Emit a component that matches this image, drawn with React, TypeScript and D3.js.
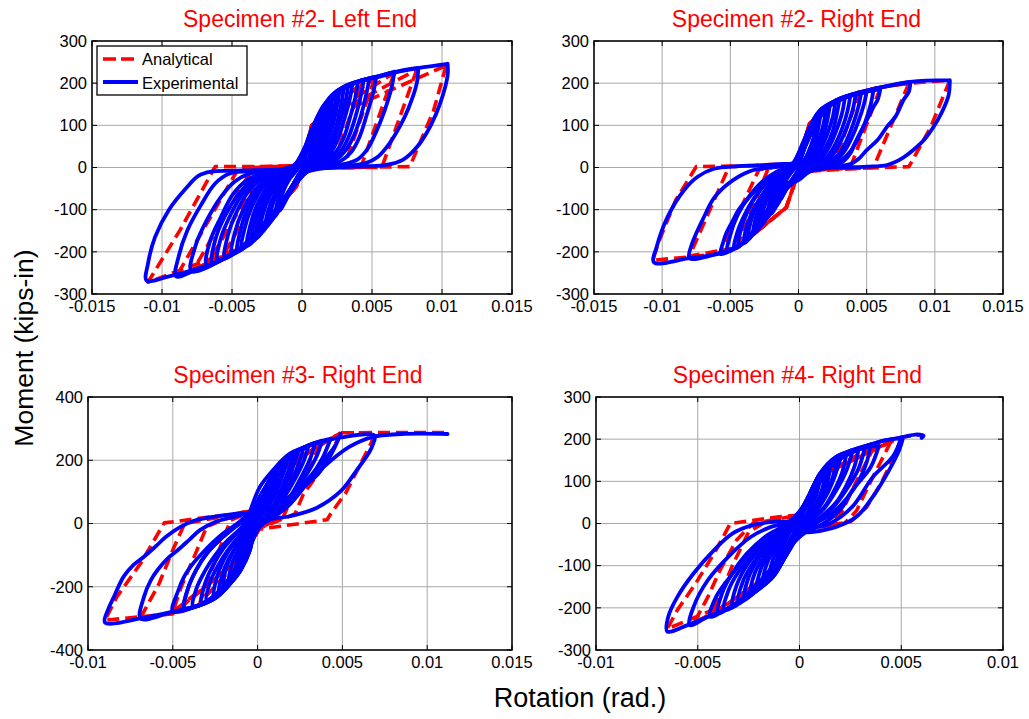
import React from "react";
import * as d3 from "d3";

type Pt = [number, number];

// ---------- tick labels ----------
const xTicksWide = [-0.015, -0.01, -0.005, 0, 0.005, 0.01, 0.015];
const xTicksMid = [-0.01, -0.005, 0, 0.005, 0.01, 0.015];
const xTicksNarrow = [-0.01, -0.005, 0, 0.005, 0.01];
const yTicks300 = [-300, -200, -100, 0, 100, 200, 300];
const yTicks400 = [-400, -200, 0, 200, 400];

const panelTitles = [
  "Specimen #2- Left End",
  "Specimen #2- Right End",
  "Specimen #3- Right End",
  "Specimen #4- Right End",
];
const seriesNames = ["Analytical", "Experimental"];
const xAxisLabel = "Rotation (rad.)";
const yAxisLabel = "Moment (kips-in)";

// ---------- Specimen #2 Left End ----------
const s2LeftExp: Pt[][] = [
  [[0.0104,246],[0.0104,218],[0.0099,155],[0.0092,100],[0.0083,52],[0.0072,18],[0.006,6],[0.0045,3],[0.003,1],[0.0015,-2],[0.0003,-12],
   [-0.0009,-60],[-0.0025,-125],[-0.0044,-190],[-0.006,-222],[-0.0078,-243],[-0.0095,-258],[-0.0111,-268],
   [-0.011,-228],[-0.0105,-165],[-0.0095,-100],[-0.0083,-50],[-0.0074,-20],[-0.0065,-10],[-0.005,-8],[-0.003,-6],[-0.0012,-3],[-0.0002,12],
   [0.0006,75],[0.0015,135],[0.0027,180],[0.004,203],[0.0055,215],[0.007,228],[0.0087,238],[0.0104,246]],
  [[0.0083,236],[0.0082,200],[0.0076,140],[0.007,98],[0.0062,55],[0.0054,25],[0.0046,11],[0.0035,5],[0.002,2],[0.0008,-3],[0,-18],
   [-0.0009,-62],[-0.0025,-128],[-0.0044,-192],[-0.006,-223],[-0.0075,-242],[-0.009,-258],
   [-0.0088,-210],[-0.0082,-150],[-0.0072,-88],[-0.0062,-38],[-0.0052,-15],[-0.004,-9],[-0.0025,-6],[-0.001,-2],[-0.0001,15],
   [0.0006,78],[0.0015,138],[0.0027,184],[0.004,204],[0.0055,217],[0.007,229],[0.0083,236]],
  [[0.0066,227],[0.0064,190],[0.0059,135],[0.0053,85],[0.0047,45],[0.004,20],[0.003,8],[0.0017,3],[0.0005,-5],
   [-0.0005,-40],[-0.0018,-100],[-0.0035,-165],[-0.0055,-215],[-0.0079,-246],
   [-0.0076,-185],[-0.0068,-125],[-0.0058,-70],[-0.0048,-33],[-0.0038,-15],[-0.0022,-8],[-0.0008,-2],[0,15],
   [0.0007,82],[0.0016,142],[0.0028,186],[0.0042,206],[0.0055,217],[0.0066,227]],
  [[0.0053,215],[0.0051,180],[0.0046,122],[0.0041,72],[0.0035,36],[0.0027,14],[0.0016,4],[0.0005,-6],
   [-0.0006,-45],[-0.0018,-102],[-0.0035,-168],[-0.0052,-208],[-0.0068,-231],
   [-0.0066,-178],[-0.0058,-118],[-0.0049,-62],[-0.0038,-27],[-0.0025,-11],[-0.001,-3],[0,18],
   [0.0007,85],[0.0016,145],[0.0028,188],[0.0041,205],[0.0053,215]],
  [[0.0048,210],[0.0046,175],[0.0042,122],[0.0037,75],[0.0031,40],[0.0023,15],[0.0012,3],[0.0001,-10],[-0.001,-60],[-0.0025,-130],
   [-0.0042,-188],[-0.0055,-215],[-0.0064,-226],[-0.0062,-172],[-0.0055,-115],[-0.0045,-62],[-0.0034,-26],[-0.002,-9],[-0.0007,0],
   [0.0002,30],[0.001,110],[0.0022,172],[0.0035,198],[0.0048,210]],
  [[0.0044,206],[0.0042,170],[0.0038,118],[0.0033,70],[0.0027,35],[0.0019,12],[0.0009,2],[0,-12],
   [-0.001,-62],[-0.0025,-135],[-0.0043,-192],[-0.006,-220],
   [-0.0058,-168],[-0.0051,-112],[-0.0042,-60],[-0.0031,-25],[-0.0018,-8],[-0.0006,3],
   [0.0003,50],[0.0012,120],[0.0024,176],[0.0035,198],[0.0044,206]],
  [[0.004,202],[0.0038,165],[0.0034,115],[0.003,72],[0.0024,36],[0.0016,12],[0.0006,-2],[-0.0004,-30],[-0.0016,-90],[-0.003,-150],
   [-0.0044,-192],[-0.0055,-214],[-0.0053,-162],[-0.0047,-108],[-0.0039,-60],[-0.0028,-24],[-0.0015,-6],[-0.0003,10],[0.0006,82],
   [0.0018,152],[0.003,190],[0.004,202]],
  [[0.0036,198],[0.0034,160],[0.003,112],[0.0026,70],[0.002,32],[0.0013,10],[0.0004,-5],
   [-0.0007,-50],[-0.0022,-122],[-0.0037,-178],[-0.005,-205],
   [-0.0048,-155],[-0.0042,-100],[-0.0034,-55],[-0.0024,-22],[-0.0012,-5],[0,20],
   [0.0008,95],[0.0018,155],[0.0028,186],[0.0036,198]],
  [[0.0033,195],[0.0031,155],[0.0027,108],[0.0023,66],[0.0017,30],[0.001,8],[0.0001,-8],[-0.001,-62],[-0.0024,-130],[-0.0036,-175],
   [-0.0046,-198],[-0.0044,-150],[-0.0039,-98],[-0.0031,-54],[-0.0021,-20],[-0.001,-3],[0,18],[0.0009,100],[0.002,165],[0.0033,195]],
  [[0.003,191],[0.0028,150],[0.0025,105],[0.0021,62],[0.0015,28],[0.0008,8],[0,-10],
   [-0.0009,-60],[-0.0022,-125],[-0.0034,-170],[-0.0043,-192],
   [-0.0041,-145],[-0.0036,-95],[-0.0029,-52],[-0.002,-22],[-0.001,-5],[-0.0001,22],
   [0.0008,98],[0.0018,158],[0.0025,182],[0.003,191]],
  [[0.0027,185],[0.0025,145],[0.0022,100],[0.0018,58],[0.0012,24],[0.0005,4],[-0.0003,-25],[-0.0014,-88],[-0.0026,-140],[-0.0039,-185],
   [-0.0037,-138],[-0.0032,-88],[-0.0025,-48],[-0.0016,-18],[-0.0006,2],[0.0003,55],[0.0012,125],[0.0021,170],[0.0027,185]],
  [[0.0025,180],[0.0023,140],[0.002,95],[0.0016,55],[0.0011,22],[0.0004,2],
   [-0.0005,-35],[-0.0016,-95],[-0.0027,-145],[-0.0036,-176],
   [-0.0034,-130],[-0.0029,-82],[-0.0022,-42],[-0.0013,-14],[-0.0004,5],
   [0.0004,60],[0.0013,128],[0.0021,168],[0.0025,180]],
  [[0.0022,170],[0.002,130],[0.0017,88],[0.0013,48],[0.0008,18],[0.0001,-5],[-0.0008,-55],[-0.0018,-108],[-0.0027,-148],[-0.0033,-168],
   [-0.0031,-122],[-0.0026,-78],[-0.0019,-40],[-0.001,-12],[-0.0002,12],[0.0006,82],[0.0015,145],[0.0022,170]],
  [[0.002,162],[0.0018,120],[0.0015,78],[0.0011,40],[0.0006,14],[0,-5],
   [-0.0008,-50],[-0.0018,-105],[-0.0025,-135],[-0.003,-155],
   [-0.0028,-112],[-0.0023,-68],[-0.0016,-32],[-0.0008,-8],[0,20],
   [0.0007,88],[0.0014,136],[0.002,162]],
  [[0.0017,148],[0.0015,108],[0.0012,68],[0.0008,32],[0.0003,8],[-0.0003,-22],[-0.0011,-68],[-0.0019,-110],[-0.0026,-142],
   [-0.0024,-100],[-0.0019,-60],[-0.0012,-25],[-0.0004,0],[0.0004,55],[0.0011,115],[0.0017,148]],
  [[0.0015,135],[0.0013,95],[0.001,55],[0.0006,22],[0.0001,-2],
   [-0.0006,-38],[-0.0014,-85],[-0.0023,-130],
   [-0.0021,-88],[-0.0016,-50],[-0.001,-20],[-0.0003,2],
   [0.0004,52],[0.001,105],[0.0015,135]],
  [[0.0012,112],[0.001,75],[0.0007,38],[0.0003,8],[-0.0002,-15],[-0.0008,-50],[-0.0014,-85],[-0.0019,-115],[-0.0017,-75],
   [-0.0012,-40],[-0.0006,-12],[0,10],[0.0005,50],[0.0009,88],[0.0012,112]],
  [[0.001,102],[0.0008,62],[0.0005,25],[0.0001,0],
   [-0.0004,-28],[-0.001,-68],[-0.0016,-102],
   [-0.0014,-62],[-0.0009,-28],[-0.0003,-3],
   [0.0003,40],[0.0007,78],[0.001,102]],
];
const s2LeftAna: Pt[][] = [
  [[0.0103,242],[0.0094,135],[0.0077,2],[0.003,0],[0.0008,0],[0,-5],[-0.0004,-45],[-0.0042,-188],[-0.011,-272],
   [-0.0087,-148],[-0.0062,2],[-0.002,2],[-0.0004,2],[0,10],[0.0007,100],[0.0103,242]],
  [[0.0082,232],[0.0057,0],[0.001,0],[0,-5],[-0.0004,-45],[-0.0042,-188],[-0.009,-260],[-0.0045,0],[0,5],[0.0007,100],[0.0082,232]],
  [[0.0066,225],[0.0042,0],[0,-3],[-0.0004,-45],[-0.0042,-188],[-0.0078,-245],[-0.0035,0],[0,5],[0.0007,100],[0.0066,225]],
  [[0.0052,212],[0.003,0],[0,-3],[-0.0004,-45],[-0.0042,-188],[-0.0068,-232],[-0.0027,0],[0,5],[0.0007,100],[0.0052,212]],
  [[0.0043,200],[0.0021,0],[0,-3],[-0.0004,-45],[-0.0042,-188],[-0.0058,-218],[-0.002,0],[0,5],[0.0007,100],[0.0043,200]],
];

// ---------- Specimen #2 Right End ----------
const s2RightExp: Pt[][] = [
  [[0.0111,207],[0.011,170],[0.0105,130],[0.0099,96],[0.0092,65],[0.0084,41],[0.0075,20],[0.0065,6],[0.005,2],[0.0035,0],[0.002,-2],[0.0008,-10],[0,-30],
   [-0.0014,-50],[-0.0023,-109],[-0.0033,-156],[-0.0045,-188],[-0.0058,-204],[-0.008,-215],[-0.0106,-225],
   [-0.0104,-188],[-0.0096,-117],[-0.0084,-54],[-0.0074,-22],[-0.0062,-3],[-0.0045,3],[-0.003,5],[-0.0015,8],[0,15],
   [0.0006,80],[0.0016,136],[0.0028,160],[0.0041,175],[0.0056,187],[0.0082,203],[0.0111,207]],
  [[0.0082,203],[0.0081,180],[0.0077,160],[0.0071,120],[0.0065,97],[0.0058,65],[0.005,41],[0.0044,20],[0.0038,8],[0.0025,2],[0.001,-5],[0,-25],
   [-0.0014,-50],[-0.0023,-109],[-0.0033,-156],[-0.0045,-188],[-0.006,-205],[-0.008,-215],
   [-0.0078,-180],[-0.0075,-156],[-0.0069,-115],[-0.0063,-77],[-0.0055,-48],[-0.0048,-30],[-0.004,-15],[-0.0033,-6],[-0.002,0],[-0.0008,5],[0,15],
   [0.0006,80],[0.0016,136],[0.0028,160],[0.0041,175],[0.0056,187],[0.007,196],[0.0082,203]],
  [[0.006,186],[0.0058,160],[0.0055,144],[0.005,112],[0.0045,81],[0.0041,55],[0.0038,33],[0.0033,15],[0.0025,5],[0.0012,-2],[0,-25],
   [-0.0014,-52],[-0.0023,-109],[-0.0033,-156],[-0.0045,-188],[-0.0057,-205],
   [-0.0055,-175],[-0.0053,-156],[-0.0048,-125],[-0.0044,-101],[-0.0036,-70],[-0.0029,-46],[-0.002,-22],[-0.001,-5],[0,12],
   [0.0006,78],[0.0016,134],[0.0028,158],[0.0041,173],[0.006,186]],
  [[0.0055,184],[0.0053,150],[0.0049,108],[0.0044,70],[0.0038,38],[0.003,14],[0.0018,2],[0.0006,-8],[-0.0005,-35],[-0.0016,-68],
   [-0.0028,-128],[-0.004,-175],[-0.0052,-198],[-0.005,-160],[-0.0045,-115],[-0.0037,-72],[-0.0027,-35],[-0.0016,-10],[-0.0005,6],
   [0.0006,78],[0.0018,138],[0.0035,168],[0.0055,184]],
  [[0.005,180],[0.0048,150],[0.0044,110],[0.0039,70],[0.0034,40],[0.0028,18],[0.0018,5],[0.0006,-8],[-0.0005,-35],
   [-0.0014,-55],[-0.0025,-115],[-0.0036,-165],[-0.0047,-192],
   [-0.0045,-155],[-0.004,-115],[-0.0033,-75],[-0.0025,-42],[-0.0015,-15],[-0.0005,5],
   [0.0006,76],[0.0016,130],[0.003,160],[0.004,172],[0.005,180]],
  [[0.0046,178],[0.0044,145],[0.004,102],[0.0035,62],[0.0029,30],[0.002,10],[0.001,-3],[0,-25],[-0.0012,-58],[-0.0024,-112],
   [-0.0035,-160],[-0.0044,-185],[-0.0042,-145],[-0.0037,-102],[-0.003,-62],[-0.0021,-28],[-0.0011,-6],[0,14],[0.0008,90],
   [0.002,143],[0.0033,166],[0.0046,178]],
  [[0.0042,175],[0.004,140],[0.0036,100],[0.0031,62],[0.0025,30],[0.0017,10],[0.0007,-5],[-0.0003,-30],
   [-0.0014,-60],[-0.0026,-120],[-0.0034,-160],[-0.004,-180],
   [-0.0038,-140],[-0.0033,-100],[-0.0026,-62],[-0.0018,-30],[-0.0008,-5],[0,15],
   [0.0007,80],[0.0018,135],[0.003,160],[0.0042,175]],
  [[0.0038,170],[0.0036,135],[0.0032,92],[0.0027,55],[0.0021,25],[0.0013,6],[0.0003,-12],[-0.0008,-45],[-0.0019,-90],[-0.0029,-138],
   [-0.0037,-170],[-0.0035,-128],[-0.003,-85],[-0.0023,-48],[-0.0014,-18],[-0.0004,3],[0.0005,60],[0.0015,125],[0.0027,157],[0.0038,170]],
  [[0.0034,165],[0.0032,130],[0.0028,90],[0.0023,52],[0.0017,22],[0.0009,2],[0,-25],
   [-0.0012,-62],[-0.0023,-115],[-0.0033,-158],
   [-0.0031,-115],[-0.0026,-75],[-0.0019,-40],[-0.0011,-12],[-0.0002,10],
   [0.0007,80],[0.0018,135],[0.0027,155],[0.0034,165]],
  [[0.003,160],[0.0028,125],[0.0025,85],[0.002,48],[0.0014,20],[0.0006,0],[-0.0003,-25],[-0.0013,-60],[-0.0022,-108],[-0.003,-148],
   [-0.0028,-105],[-0.0023,-65],[-0.0016,-32],[-0.0008,-8],[0,15],[0.0008,85],[0.0019,140],[0.003,160]],
  [[0.0027,155],[0.0025,118],[0.0021,78],[0.0016,42],[0.001,15],[0.0002,-10],
   [-0.0008,-45],[-0.0018,-95],[-0.0027,-135],
   [-0.0025,-92],[-0.002,-55],[-0.0013,-25],[-0.0005,0],
   [0.0004,50],[0.0013,115],[0.0021,145],[0.0027,155]],
  [[0.0023,147],[0.0021,110],[0.0018,72],[0.0013,38],[0.0007,12],[0,-15],[-0.0008,-45],[-0.0016,-82],[-0.0023,-120],
   [-0.0021,-80],[-0.0016,-45],[-0.001,-18],[-0.0002,5],[0.0005,50],[0.0014,112],[0.0023,147]],
  [[0.002,135],[0.0018,98],[0.0014,60],[0.0009,28],[0.0003,2],
   [-0.0005,-30],[-0.0013,-72],[-0.002,-110],
   [-0.0018,-72],[-0.0013,-40],[-0.0007,-12],[0,12],
   [0.0007,70],[0.0014,112],[0.002,135]],
  [[0.0016,122],[0.0014,85],[0.0011,50],[0.0006,20],[0,-8],[-0.0006,-35],[-0.0011,-62],[-0.0016,-90],[-0.0014,-55],
   [-0.001,-28],[-0.0004,-5],[0.0002,25],[0.0008,80],[0.0016,122]],
  [[0.0013,105],[0.0011,70],[0.0007,35],[0.0002,5],
   [-0.0004,-25],[-0.0009,-52],[-0.0013,-75],
   [-0.0011,-42],[-0.0006,-15],[0,10],
   [0.0006,60],[0.0013,105]],
];
const s2RightAna: Pt[][] = [
  [[0.0111,207],[0.0097,96],[0.0081,2],[0.0041,-2],[0.0008,-5],[0,-10],[-0.0009,-95],[-0.0045,-190],[-0.0058,-204],[-0.008,-212],[-0.0107,-220],
   [-0.0102,-172],[-0.009,-77],[-0.0075,2],[-0.002,5],[0,10],[0.0008,104],[0.0028,160],[0.0056,188],[0.0082,200],[0.0111,207]],
  [[0.0081,200],[0.0055,0],[0,-10],[-0.0009,-95],[-0.0045,-190],[-0.008,-210],[-0.0051,2],[0,10],[0.0008,104],[0.0028,160],[0.0056,188],[0.0081,200]],
  [[0.006,188],[0.0038,0],[0,-10],[-0.0009,-95],[-0.0045,-190],[-0.0058,-204],[-0.0029,-5],[0,10],[0.0008,104],[0.0028,160],[0.006,188]],
  [[0.0045,180],[0.0025,0],[0,-10],[-0.0009,-95],[-0.0045,-190],[-0.0022,0],[0,10],[0.0008,104],[0.0028,160],[0.0045,180]],
];

// ---------- Specimen #3 Right End ----------
const s3RightExp: Pt[][] = [
  [[-0.0004,45],[0.00014,116],[0.0009,168],[0.0019,221],[0.0035,253],[0.0049,272],[0.0069,278],[0.0068,250],[0.0066,227],[0.0058,165],
   [0.0049,102],[0.0035,50],[0.0019,23],[0.0005,10],[-0.0002,-20],[-0.00045,-84],[-0.001,-147],[-0.0016,-189],[-0.0024,-232],
   [-0.0034,-258],[-0.005,-279],[-0.0069,-300],[-0.009,-313],[-0.0088,-270],[-0.0085,-235],[-0.0079,-168],[-0.0073,-130],[-0.0067,-105],
   [-0.006,-72],[-0.0054,-42],[-0.0046,-12],[-0.0038,8],[-0.003,18],[-0.0022,24],[-0.001,32],[-0.0002,30],[0.0006,22],[0.0013,38],
   [0.0025,105],[0.0039,179],[0.0054,242],[0.0068,274],[0.0085,283],[0.0112,283]],
  [[0.0049,283],[0.0045,240],[0.0039,200],[0.0029,137],[0.0019,74],[0.001,21],[0.0003,0],[-0.0002,-25],[-0.00045,-84],[-0.001,-147],
   [-0.0016,-189],[-0.0024,-232],[-0.0034,-258],[-0.005,-279],[-0.0069,-301],[-0.0067,-232],[-0.0063,-180],[-0.0059,-147],[-0.0053,-110],
   [-0.0047,-84],[-0.004,-50],[-0.0034,-21],[-0.0025,5],[-0.0014,21],[-0.0005,35],[0.0005,45],[0.0015,72],[0.0025,108],[0.0035,153],
   [0.0043,215],[0.0049,283]],
  [[0.0043,268],[0.0039,215],[0.0033,160],[0.0026,105],[0.0018,55],[0.0009,18],[0.0001,-12],[-0.0004,-70],[-0.001,-147],[-0.0016,-189],
   [-0.0024,-232],[-0.0034,-258],[-0.0043,-268],[-0.0041,-205],[-0.0036,-145],[-0.003,-95],[-0.0022,-50],[-0.0013,-10],[-0.0004,30],
   [0.0003,100],[0.0012,172],[0.0022,225],[0.0034,255],[0.0043,268]],
  [[0.0038,262],[0.0035,215],[0.003,165],[0.0023,110],[0.0015,55],[0.0007,15],[0,-15],[-0.0005,-84],[-0.001,-147],[-0.0016,-189],
   [-0.0024,-232],[-0.0034,-258],[-0.005,-278],[-0.0047,-215],[-0.0043,-165],[-0.0038,-126],[-0.0032,-90],[-0.0027,-63],[-0.002,-30],
   [-0.0012,0],[-0.0004,40],[0.0003,100],[0.001,160],[0.0019,215],[0.0028,242],[0.0038,262]],
  [[0.0034,255],[0.0031,205],[0.0026,150],[0.002,92],[0.0012,40],[0.0004,8],[-0.0003,-40],[-0.0009,-120],[-0.0018,-195],[-0.003,-245],
   [-0.0043,-268],[-0.0041,-205],[-0.0036,-145],[-0.003,-95],[-0.0022,-50],[-0.0013,-10],[-0.0004,30],[0.0003,100],[0.0012,172],
   [0.0022,225],[0.0034,255]],
  [[0.003,245],[0.0027,195],[0.0022,140],[0.0016,85],[0.001,40],[0.0003,5],[-0.0004,-60],[-0.001,-140],[-0.0018,-198],[-0.0028,-240],
   [-0.0038,-262],[-0.0036,-205],[-0.0031,-150],[-0.0025,-100],[-0.0018,-55],[-0.001,-15],[-0.0003,30],[0.0003,100],[0.001,160],
   [0.0019,215],[0.003,245]],
  [[0.0027,238],[0.0024,185],[0.0019,125],[0.0013,68],[0.0006,25],[0,-5],[-0.0007,-80],[-0.0015,-160],[-0.0024,-220],[-0.0033,-252],
   [-0.0031,-190],[-0.0026,-130],[-0.002,-78],[-0.0012,-30],[-0.0004,20],[0.0003,90],[0.0011,160],[0.0019,212],[0.0027,238]],
  [[0.0024,228],[0.0021,180],[0.0017,128],[0.0012,75],[0.0006,30],[0,-10],[-0.0006,-90],[-0.0013,-160],[-0.0021,-212],[-0.003,-245],
   [-0.0028,-185],[-0.0023,-130],[-0.0017,-80],[-0.001,-35],[-0.0003,15],[0.0003,90],[0.001,155],[0.0017,200],[0.0024,228]],
  [[0.0021,215],[0.0018,165],[0.0014,110],[0.0009,55],[0.0003,15],[-0.0003,-30],[-0.001,-110],[-0.0018,-185],[-0.0026,-235],
   [-0.0024,-170],[-0.002,-115],[-0.0014,-62],[-0.0007,-15],[0,35],[0.0006,110],[0.0013,175],[0.0021,215]],
  [[0.0018,205],[0.0015,155],[0.0011,100],[0.0006,50],[0,0],[-0.0006,-75],[-0.0012,-145],[-0.0018,-195],[-0.0023,-225],
   [-0.0021,-165],[-0.0017,-112],[-0.0011,-62],[-0.0005,-15],[0.0001,50],[0.0008,130],[0.0013,175],[0.0018,205]],
  [[0.0015,190],[0.0013,140],[0.0009,85],[0.0004,35],[-0.0002,-15],[-0.0008,-85],[-0.0014,-155],[-0.002,-210],[-0.0019,-150],
   [-0.0015,-95],[-0.001,-45],[-0.0004,10],[0.0002,75],[0.0008,140],[0.0015,190]],
  [[0.0012,165],[0.001,120],[0.0006,70],[0.0001,20],[-0.0005,-55],[-0.0011,-130],[-0.0017,-185],
   [-0.0015,-125],[-0.001,-70],[-0.0005,-25],[0,25],[0.0006,100],[0.0012,165]],
  [[0.0009,150],[0.0007,105],[0.0004,60],[0,15],[-0.0004,-35],[-0.0008,-95],[-0.0013,-165],[-0.0012,-110],[-0.0009,-60],
   [-0.0005,-15],[-0.0001,30],[0.0004,95],[0.0009,150]],
  [[0.0007,125],[0.0005,85],[0.0001,40],[-0.0004,-20],[-0.0008,-80],[-0.0012,-140],
   [-0.001,-90],[-0.0006,-45],[-0.0002,5],[0.0002,60],[0.0007,125]],
];
const s3RightAna: Pt[][] = [
  [[0.0049,287],[0.0069,287],[0.0067,255],[0.0052,97],[0.0043,30],[0.0041,12],[0.0001,-18],[-0.0008,-100],[-0.005,-285],[-0.009,-306],
   [-0.0083,-232],[-0.0069,-126],[-0.0055,2],[-0.0014,30],[0,45],[0.0008,150],[0.0049,287],[0.0112,288]],
  [[0.0049,287],[0.0045,240],[0.0037,166],[0.0027,93],[0.0022,30],[0.0001,-15],[-0.0008,-100],[-0.005,-285],[-0.0069,-298],
   [-0.0058,-189],[-0.005,-84],[-0.0043,0],[-0.0014,28],[0,45],[0.0008,150],[0.0049,287]],
  [[0.0037,250],[0.003,175],[0.0022,100],[0.0015,20],[0.0001,-15],[-0.0008,-100],[-0.005,-280],[-0.0045,-200],[-0.0037,-100],
   [-0.003,-10],[-0.0014,25],[0,45],[0.0008,150],[0.0037,250]],
  [[0.0025,220],[0.0018,130],[0.0011,40],[0.0001,-10],[-0.0008,-100],[-0.0034,-250],[-0.0028,-160],[-0.0021,-60],[-0.0016,10],
   [0,45],[0.0008,150],[0.0025,220]],
];

// ---------- Specimen #4 Right End ----------
const s4RightExp: Pt[][] = [
  [[0.0051,205],[0.0049,174],[0.0044,126],[0.0036,63],[0.0028,16],[0.0018,-8],[0.0007,-20],[-0.0001,-24],[-0.0003,-47],[-0.0008,-87],
   [-0.0013,-126],[-0.0023,-166],[-0.0035,-201],[-0.0045,-221],[-0.0055,-241],[-0.0065,-256],[-0.00645,-221],[-0.006,-174],
   [-0.0052,-118],[-0.0042,-63],[-0.0033,-24],[-0.0023,-4],[-0.0013,4],[-0.0003,8],[0.00035,55],[0.001,118],[0.0018,158],
   [0.0026,174],[0.0034,186],[0.0042,197],[0.0051,205],[0.0057,211],[0.0061,208],[0.006,203]],
  [[0.005,203],[0.0046,160],[0.0036,110],[0.0026,40],[0.0015,0],[0.0005,-15],[-0.0003,-47],[-0.0008,-87],[-0.0013,-126],[-0.0023,-166],
   [-0.0035,-201],[-0.0045,-221],[-0.0054,-241],[-0.0052,-197],[-0.0045,-134],[-0.0035,-79],[-0.0024,-32],[-0.0014,-8],[-0.0004,5],
   [0.00035,55],[0.001,118],[0.0018,158],[0.0026,174],[0.0034,186],[0.0042,197],[0.005,203]],
  [[0.0039,184],[0.0035,134],[0.0026,79],[0.002,32],[0.001,-5],[0,-25],[-0.0005,-62],[-0.0013,-126],[-0.0023,-166],[-0.0035,-201],
   [-0.0044,-221],[-0.0041,-174],[-0.0034,-126],[-0.0026,-79],[-0.0016,-39],[-0.0007,-5],[0.0002,40],[0.001,115],[0.002,160],
   [0.003,178],[0.0039,184]],
  [[0.0035,188],[0.0033,145],[0.0029,100],[0.0023,58],[0.0016,24],[0.0007,-2],[-0.0002,-30],[-0.0012,-95],[-0.0024,-160],[-0.0033,-195],
   [-0.004,-212],[-0.0038,-165],[-0.0033,-118],[-0.0026,-72],[-0.0017,-32],[-0.0007,-3],[0.0002,35],[0.0011,112],[0.0022,160],[0.0035,188]],
  [[0.0032,178],[0.0029,130],[0.0023,80],[0.0016,35],[0.0008,0],[0,-25],[-0.0008,-85],[-0.0018,-145],[-0.0028,-185],[-0.0037,-205],
   [-0.0035,-160],[-0.003,-115],[-0.0022,-70],[-0.0014,-30],[-0.0005,0],[0.0003,50],[0.0011,122],[0.0022,165],[0.0032,178]],
  [[0.0029,175],[0.0027,135],[0.0023,90],[0.0018,50],[0.0011,18],[0.0003,-8],[-0.0006,-55],[-0.0016,-120],[-0.0026,-168],[-0.0033,-195],
   [-0.0031,-148],[-0.0026,-100],[-0.0019,-58],[-0.0011,-22],[-0.0002,5],[0.0006,72],[0.0016,140],[0.0029,175]],
  [[0.0026,170],[0.0023,125],[0.0018,78],[0.0012,35],[0.0005,5],[-0.0002,-30],[-0.001,-95],[-0.002,-150],[-0.003,-185],
   [-0.0028,-140],[-0.0023,-95],[-0.0016,-52],[-0.0008,-15],[0,15],[0.0007,90],[0.0016,145],[0.0026,170]],
  [[0.0023,165],[0.0021,122],[0.0017,78],[0.0012,38],[0.0005,8],[-0.0002,-25],[-0.001,-85],[-0.0019,-140],[-0.0027,-175],
   [-0.0025,-128],[-0.002,-82],[-0.0013,-40],[-0.0005,-8],[0.0003,45],[0.0012,118],[0.0023,165]],
  [[0.002,152],[0.0017,108],[0.0013,65],[0.0008,28],[0.0001,-5],[-0.0006,-55],[-0.0014,-115],[-0.0024,-165],
   [-0.0022,-118],[-0.0017,-75],[-0.001,-32],[-0.0002,5],[0.0005,70],[0.0013,125],[0.002,152]],
  [[0.0018,145],[0.0016,105],[0.0012,62],[0.0007,25],[0.0001,-5],[-0.0005,-48],[-0.0012,-100],[-0.0021,-155],[-0.0019,-108],
   [-0.0014,-65],[-0.0008,-25],[-0.0001,8],[0.0006,72],[0.0012,120],[0.0018,145]],
  [[0.0015,128],[0.0013,88],[0.0009,48],[0.0004,15],[-0.0003,-25],[-0.001,-85],[-0.0018,-140],
   [-0.0016,-95],[-0.0011,-52],[-0.0005,-12],[0.0002,35],[0.0009,95],[0.0015,128]],
  [[0.0013,118],[0.0011,80],[0.0008,45],[0.0004,15],[-0.0001,-15],[-0.0006,-55],[-0.0011,-95],[-0.0015,-125],[-0.0013,-85],
   [-0.0009,-48],[-0.0004,-15],[0.0001,20],[0.0007,75],[0.0013,118]],
  [[0.001,102],[0.0008,65],[0.0004,25],[-0.0001,-10],[-0.0006,-55],[-0.0012,-110],
   [-0.001,-68],[-0.0006,-30],[0,10],[0.0005,60],[0.001,102]],
  [[0.0008,85],[0.0006,50],[0.0003,18],[-0.0001,-12],[-0.0005,-45],[-0.001,-95],[-0.0008,-55],[-0.0005,-22],[-0.0001,5],
   [0.0003,40],[0.0008,85]],
];
const s4RightAna: Pt[][] = [
  [[0.005,205],[0.0048,174],[0.004,95],[0.0033,39],[0.0025,4],[0.0005,-10],[0,-15],[-0.001,-103],[-0.0035,-190],[-0.0065,-250],
   [-0.006,-205],[-0.0051,-142],[-0.0041,-63],[-0.0034,0],[-0.001,16],[0,20],[0.0009,110],[0.005,205],[0.0059,210]],
  [[0.0045,195],[0.0035,100],[0.0028,30],[0.0022,0],[0,-15],[-0.001,-103],[-0.0035,-190],[-0.0052,-237],[-0.0045,-174],
   [-0.0039,-110],[-0.0031,-40],[-0.0023,0],[0,20],[0.0009,110],[0.0045,195]],
  [[0.0037,185],[0.0028,100],[0.002,20],[0.0015,0],[0,-15],[-0.001,-103],[-0.0035,-190],[-0.0043,-215],[-0.0033,-100],
   [-0.0025,-20],[-0.0018,0],[0,20],[0.0009,110],[0.0037,185]],
];

// ---------- drawing ----------
const FONT = "Arial, 'Liberation Sans', Helvetica, sans-serif";
const RED = "#ff0000";
const BLUE = "#0000ff";

type Box = { l: number; r: number; t: number; b: number };

interface PanelProps {
  id: string;
  box: Box;
  xDomain: [number, number];
  yDomain: [number, number];
  xTicks: number[];
  yTicks: number[];
  title: string;
  exp: Pt[][];
  ana: Pt[][];
  legend?: boolean;
}

function Panel({ id, box, xDomain, yDomain, xTicks, yTicks, title, exp, ana, legend }: PanelProps) {
  const x = d3.scaleLinear().domain(xDomain).range([box.l, box.r]);
  const y = d3.scaleLinear().domain(yDomain).range([box.b, box.t]);
  const expLine = d3
    .line<Pt>()
    .x((d) => x(d[0]))
    .y((d) => y(d[1]))
    .curve(d3.curveCatmullRom.alpha(0.5));
  const anaLine = d3
    .line<Pt>()
    .x((d) => x(d[0]))
    .y((d) => y(d[1]));
  const w = box.r - box.l;
  const h = box.b - box.t;
  const clipId = `clip-${id}`;
  const tickLen = 5;
  return (
    <g>
      <defs>
        <clipPath id={clipId}>
          <rect x={box.l} y={box.t} width={w} height={h} />
        </clipPath>
      </defs>
      <rect x={box.l} y={box.t} width={w} height={h} fill="#fff" />
      {xTicks.map((v, i) => (
        <line key={`gx${i}`} x1={x(v)} x2={x(v)} y1={box.t} y2={box.b} stroke="#a8a8a8" strokeWidth={1} />
      ))}
      {yTicks.map((v, i) => (
        <line key={`gy${i}`} x1={box.l} x2={box.r} y1={y(v)} y2={y(v)} stroke="#a8a8a8" strokeWidth={1} />
      ))}
      <g clipPath={`url(#${clipId})`}>
        {ana.map((loop, i) => (
          <path
            key={`a${i}`}
            d={anaLine(loop) || ""}
            fill="none"
            stroke={RED}
            strokeWidth={3.6}
            strokeDasharray="12 6"
            strokeLinejoin="round"
          />
        ))}
        {exp.map((loop, i) => (
          <path
            key={`e${i}`}
            d={expLine(loop) || ""}
            fill="none"
            stroke={BLUE}
            strokeWidth={3.8}
            strokeLinejoin="round"
            strokeLinecap="round"
          />
        ))}
      </g>
      {xTicks.map((v, i) => (
        <g key={`tx${i}`}>
          <line x1={x(v)} x2={x(v)} y1={box.b} y2={box.b - tickLen} stroke="#000" strokeWidth={1} />
          <line x1={x(v)} x2={x(v)} y1={box.t} y2={box.t + tickLen} stroke="#000" strokeWidth={1} />
          <text x={x(v)} y={box.b + 17.5} textAnchor="middle" fontSize={16.5} fontFamily={FONT} fill="#000">
            {String(v)}
          </text>
        </g>
      ))}
      {yTicks.map((v, i) => (
        <g key={`ty${i}`}>
          <line x1={box.l} x2={box.l + tickLen} y1={y(v)} y2={y(v)} stroke="#000" strokeWidth={1} />
          <line x1={box.r} x2={box.r - tickLen} y1={y(v)} y2={y(v)} stroke="#000" strokeWidth={1} />
          <text x={box.l - 5} y={y(v)} dy="0.35em" textAnchor="end" fontSize={16.5} fontFamily={FONT} fill="#000">
            {String(v)}
          </text>
        </g>
      ))}
      <rect x={box.l} y={box.t} width={w} height={h} fill="none" stroke="#000" strokeWidth={1.5} />
      <text
        x={(box.l + box.r) / 2 - 2}
        y={box.t - 14}
        textAnchor="middle"
        fontSize={23}
        fontFamily={FONT}
        fill={RED}
      >
        {title}
      </text>
      {legend && (
        <g>
          <rect x={97} y={46} width={150} height={49} fill="#fff" stroke="#000" strokeWidth={1.3} />
          <line x1={103} x2={137} y1={59} y2={59} stroke={RED} strokeWidth={3.6} strokeDasharray="13 5" />
          <line x1={103} x2={138} y1={82} y2={82} stroke={BLUE} strokeWidth={3.8} />
          <text x={142} y={65} fontSize={16.5} fontFamily={FONT} fill="#000">
            {seriesNames[0]}
          </text>
          <text x={142} y={88.5} fontSize={16.5} fontFamily={FONT} fill="#000">
            {seriesNames[1]}
          </text>
        </g>
      )}
    </g>
  );
}

export default function App() {
  return (
    <svg
      width={1029}
      height={719}
      viewBox="0 0 1029 719"
      style={{ position: "absolute", left: 0, top: 0, background: "#fff" }}
    >
      <rect x={0} y={0} width={1029} height={719} fill="#fff" />
      <Panel
        id="p1"
        box={{ l: 92, r: 512, t: 41, b: 294 }}
        xDomain={[-0.015, 0.015]}
        yDomain={[-300, 300]}
        xTicks={xTicksWide}
        yTicks={yTicks300}
        title={panelTitles[0]}
        exp={s2LeftExp}
        ana={s2LeftAna}
        legend
      />
      <Panel
        id="p2"
        box={{ l: 594, r: 1003, t: 41, b: 294 }}
        xDomain={[-0.015, 0.015]}
        yDomain={[-300, 300]}
        xTicks={xTicksWide}
        yTicks={yTicks300}
        title={panelTitles[1]}
        exp={s2RightExp}
        ana={s2RightAna}
      />
      <Panel
        id="p3"
        box={{ l: 88, r: 512, t: 397, b: 650 }}
        xDomain={[-0.01, 0.015]}
        yDomain={[-400, 400]}
        xTicks={xTicksMid}
        yTicks={yTicks400}
        title={panelTitles[2]}
        exp={s3RightExp}
        ana={s3RightAna}
      />
      <Panel
        id="p4"
        box={{ l: 596, r: 1003, t: 397, b: 650 }}
        xDomain={[-0.01, 0.01]}
        yDomain={[-300, 300]}
        xTicks={xTicksNarrow}
        yTicks={yTicks300}
        title={panelTitles[3]}
        exp={s4RightExp}
        ana={s4RightAna}
      />
      <text
        transform="translate(32.5,348) rotate(-90)"
        textAnchor="middle"
        fontSize={26.5}
        fontFamily={FONT}
        fill="#000"
      >
        {yAxisLabel}
      </text>
      <text x={580} y={707} textAnchor="middle" fontSize={27} fontFamily={FONT} fill="#000">
        {xAxisLabel}
      </text>
    </svg>
  );
}
